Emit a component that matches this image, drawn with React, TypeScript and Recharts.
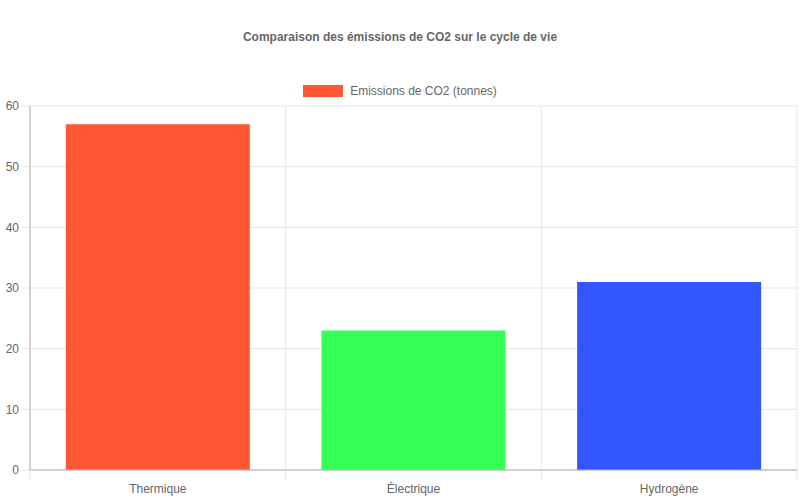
import React from "react";
import { BarChart, Bar, XAxis, YAxis, CartesianGrid, Cell } from "recharts";

const categories = ["Thermique", "Électrique", "Hydrogène"];
const emissions = [57, 23, 31];
const barColors = ["#FF5733", "#33FF57", "#3357FF"];
const yTicks = [0, 10, 20, 30, 40, 50, 60];

const TITLE = "Comparaison des émissions de CO2 sur le cycle de vie";
const SERIES_NAME = "Emissions de CO2 (tonnes)";

const FONT = "'Liberation Sans', Arial, sans-serif";
const TEXT = "#666";
const GRID = "#e5e5e5";
const AXIS = "#b0b0b0";

const chartData = categories.map((name, i) => ({ name, value: emissions[i], color: barColors[i] }));

// vertical grid lines sit on the category boundaries, like Chart.js
const boundaryLines = ({ offset }: any) =>
  Array.from({ length: categories.length + 1 }, (_, i) => offset.left + (i * offset.width) / categories.length);

// label at band centre, tick mark on the band's left edge (and right edge for the last one)
function CategoryTick(props: any) {
  const { x, y, payload, index } = props;
  const half = payload.offset || 0;
  const axisY = y - 14;
  return (
    <g>
      <line x1={x - half} x2={x - half} y1={axisY} y2={axisY + 10} stroke={GRID} />
      {index === categories.length - 1 && (
        <line x1={x + half} x2={x + half} y1={axisY} y2={axisY + 10} stroke={GRID} />
      )}
      <text x={x} y={y} dy="0.71em" textAnchor="middle" fill={TEXT} fontSize={12}>
        {payload.value}
      </text>
    </g>
  );
}

export default function App() {
  return (
    <div style={{ position: "absolute", left: 0, top: 0, width: 800, height: 500, fontFamily: FONT, background: "#fff" }}>
      <div style={{ position: "absolute", top: 30, left: 0, width: 800, textAlign: "center", fontSize: 12, fontWeight: "bold", color: TEXT }}>
        {TITLE}
      </div>
      <div style={{ position: "absolute", top: 84, left: 0, width: 800, display: "flex", justifyContent: "center", alignItems: "center", fontSize: 12, color: TEXT }}>
        <span style={{ display: "inline-block", width: 38, height: 10, background: barColors[0], border: "1px solid " + barColors[0], marginRight: 7 }} />
        <span>{SERIES_NAME}</span>
      </div>
      <BarChart
        width={800}
        height={500}
        data={chartData}
        margin={{ top: 106, right: 3, left: 0, bottom: 0 }}
        barCategoryGap="14%"
        style={{ fontFamily: FONT }}
      >
        <CartesianGrid stroke={GRID} verticalCoordinatesGenerator={boundaryLines} />
        <XAxis
          dataKey="name"
          height={30}
          axisLine={{ stroke: AXIS }}
          tickLine={false}
          tickSize={8}
          tickMargin={6}
          tick={<CategoryTick />}
          interval={0}
        />
        <YAxis
          width={30}
          domain={[0, 60]}
          ticks={yTicks}
          interval={0}
          tickSize={8}
          tickMargin={3}
          tick={{ fill: TEXT, fontSize: 12 }}
          tickLine={{ stroke: GRID }}
          axisLine={{ stroke: AXIS }}
        />
        <Bar dataKey="value" isAnimationActive={false}>
          {chartData.map((d, i) => (
            <Cell key={i} fill={d.color} />
          ))}
        </Bar>
      </BarChart>
    </div>
  );
}
